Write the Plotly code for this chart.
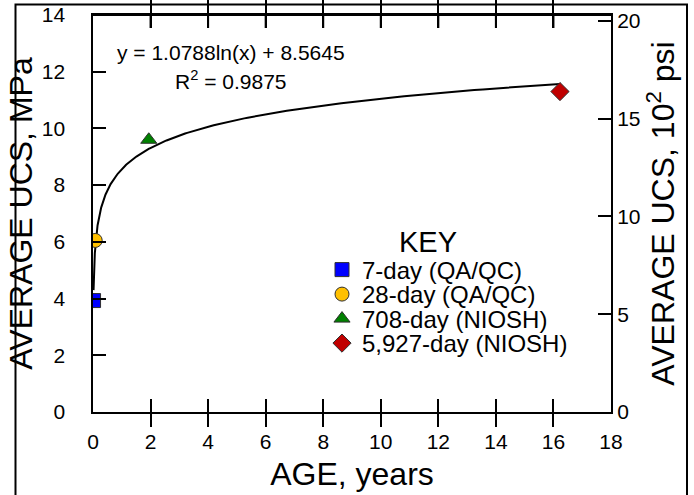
import numpy as np
import plotly.graph_objects as go

# ---- data ----
series_names = ["7-day (QA/QC)", "28-day (QA/QC)", "708-day (NIOSH)", "5,927-day (NIOSH)"]
age_days = [7, 28, 708, 5927]
ucs_mpa = [3.93, 6.05, 9.6, 11.3]
marker_symbols = ["square", "circle", "triangle-up", "diamond"]
marker_colors = ["#0000FF", "#FFC000", "#008000", "#C00000"]
fit_a = 1.0788
fit_b = 8.5645
fit_r2 = 0.9875
x_ticks = [0, 2, 4, 6, 8, 10, 12, 14, 16, 18]
y_ticks = [0, 2, 4, 6, 8, 10, 12, 14]
y2_ticks = [0, 5, 10, 15, 20]
MPA_TO_100PSI = 1.45038

age_years = [d / 365.25 for d in age_days]

FONT = "Arial, Liberation Sans, sans-serif"
W, H = 694, 495
ML, MR, MT, MB = 93, 83, 15, 83
PW, PH = W - ML - MR, H - MT - MB
TICKLEN = 13

def px_x(px):
    return (px - ML) / PW

def px_y(py):
    return (H - MB - py) / PH

fig = go.Figure()

# trendline from fitted coefficients
xs = np.geomspace(age_years[0], age_years[-1], 300)
fig.add_trace(go.Scatter(x=xs, y=fit_a * np.log(xs) + fit_b, mode="lines",
                         line=dict(color="black", width=2), showlegend=False,
                         hoverinfo="skip"))

legend_rows = [270, 294.5, 319, 343.5]
for i in range(len(age_days)):
    lg = "legend" if i == 0 else f"legend{i+1}"
    fig.add_trace(go.Scatter(
        x=[age_years[i]], y=[ucs_mpa[i]], mode="markers", name=series_names[i],
        marker=dict(symbol=marker_symbols[i], color=marker_colors[i], size=14,
                    line=dict(color="#303030", width=1)),
        legend=lg))

# dummy trace to attach the right axis
fig.add_trace(go.Scatter(x=[None], y=[None], yaxis="y2", showlegend=False))

legend_common = dict(font=dict(family=FONT, size=24, color="black"),
                     bgcolor="rgba(0,0,0,0)", borderwidth=0,
                     xanchor="left", yanchor="middle", x=px_x(322))
layout_legends = {}
for i, row in enumerate(legend_rows):
    key = "legend" if i == 0 else f"legend{i+1}"
    layout_legends[key] = dict(legend_common, y=px_y(row))

axis_common = dict(showline=True, linecolor="black", linewidth=2, ticks="inside",
                   ticklen=TICKLEN, tickwidth=2, tickcolor="black", showgrid=False,
                   zeroline=False, tickmode="array", showticklabels=True,
                   tickfont=dict(family=FONT, size=21, color="black"))

# top frame line and mirrored top ticks (positioned by the x scale)
frame_shapes = [
    dict(type="rect", xref="paper", yref="paper",
         x0=px_x(15.5), x1=px_x(687), y0=px_y(4.5), y1=px_y(520),
         line=dict(color="black", width=2), layer="above"),
    dict(type="line", xref="paper", yref="paper", x0=0, x1=1, y0=1, y1=1,
         line=dict(color="black", width=2), layer="above"),
]
top_ticks = [dict(type="line", xref="x", yref="paper", x0=v, x1=v, y0=1,
                  y1=1 - TICKLEN / PH, line=dict(color="black", width=2), layer="above")
             for v in x_ticks[1:-1]]

fig.update_layout(
    template="none",
    width=W, height=H,
    margin=dict(l=ML, r=MR, t=MT, b=MB, autoexpand=False),
    paper_bgcolor="white", plot_bgcolor="rgba(0,0,0,0)",
    showlegend=True,
    xaxis=dict(axis_common, range=[0, 18], tickvals=x_ticks, ticklabelstandoff=10,
               mirror="allticks",
               title=dict(text="AGE, years", font=dict(family=FONT, size=32, color="black"),
                          standoff=10)),
    yaxis=dict(axis_common, range=[0, 14], tickvals=y_ticks, ticklabelstandoff=10,
               ticktext=[f"{v}<span style='color:rgba(0,0,0,0)'>0</span>" for v in y_ticks],
               title=dict(text="AVERAGE UCS, MPa", font=dict(family=FONT, size=32, color="black"),
                          standoff=0)),
    yaxis2=dict(axis_common, range=[0, 14 * MPA_TO_100PSI], tickvals=y2_ticks,
                overlaying="y", side="right", anchor="x",
                title=dict(text="AVERAGE UCS, 10<sup>2</sup> psi",
                           font=dict(family=FONT, size=32, color="black"), standoff=9)),
    **layout_legends,
    annotations=[
        dict(text=f"y = {fit_a}ln(x) + {fit_b}", xref="paper", yref="paper",
             x=px_x(231), y=px_y(52), xanchor="center", yanchor="middle", showarrow=False,
             font=dict(family=FONT, size=21, color="black")),
        dict(text=f"R<sup>2</sup> = {fit_r2}", xref="paper", yref="paper",
             x=px_x(231), y=px_y(80), xanchor="center", yanchor="middle", showarrow=False,
             font=dict(family=FONT, size=21, color="black")),
        dict(text="KEY", xref="paper", yref="paper", x=px_x(428), y=px_y(242),
             xanchor="center", yanchor="middle",
             showarrow=False, font=dict(family=FONT, size=29, color="black")),
    ],
    shapes=frame_shapes + top_ticks,
)

fig.write_html("out.html", config={"displayModeBar": False},
               post_script="document.body.style.margin='0';")
